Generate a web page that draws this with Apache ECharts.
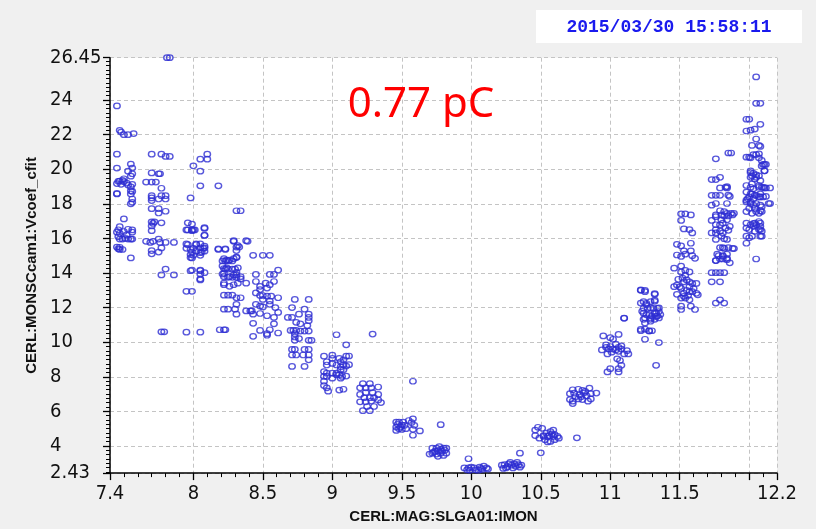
<!DOCTYPE html>
<html>
<head>
<meta charset="utf-8">
<script src="https://cdn.jsdelivr.net/npm/echarts@6/dist/echarts.min.js"></script>
<style>
  html, body { margin: 0; padding: 0; background: #f0f0f0; }
  #chart { width: 816px; height: 529px; }
</style>
</head>
<body>
<div id="chart"></div>
<script>
// Measured [current (A), Vcoef_cfit] pairs, grouped by magnet set point.
const i7_5 = [[7.45,23.66],[7.47,22.25],[7.48,22.15],[7.5,22.0],[7.53,22.0],[7.57,22.06],
  [7.45,20.87],[7.45,20.07],[7.53,19.89],[7.55,20.3],[7.56,20.07],[7.56,19.74],[7.55,19.6],
  [7.47,19.32],[7.49,19.36],[7.48,19.13],[7.5,19.28],[7.45,19.17],[7.53,19.09],[7.55,18.98],[7.56,19.13],[7.55,18.75],[7.56,18.72],
  [7.45,18.57],[7.55,18.57],[7.56,18.28],[7.55,18.0],[7.56,18.09],
  [7.5,17.13],[7.47,16.68],[7.45,16.36],[7.47,16.3],[7.5,16.4],[7.53,16.53],[7.56,16.49],[7.56,16.36],
  [7.47,15.96],[7.49,15.96],[7.53,15.96],[7.55,15.96],[7.56,15.96],
  [7.47,15.49],[7.49,15.36],[7.47,15.36],[7.55,14.87],
  [7.46,19.3],[7.45,18.6],[7.46,16.5],[7.46,16.1],[7.45,15.5],[7.46,15.4],[7.5,19.45],[7.52,19.2],[7.51,16.0],[7.52,16.2]];

const i7_75 = [[7.7,20.87],[7.77,20.87],[7.8,20.74],[7.83,20.74],
  [7.7,19.79],[7.75,19.74],[7.76,19.74],
  [7.66,19.26],[7.7,19.26],[7.73,19.26],[7.77,18.9],
  [7.7,18.47],[7.7,18.34],[7.7,18.19],[7.77,18.47],[7.8,18.47],[7.8,18.28],[7.75,18.28],
  [7.7,17.72],[7.75,17.72],[7.75,17.47],[7.8,17.57],
  [7.7,16.96],[7.71,16.87],[7.72,16.96],[7.77,16.9],[7.7,16.72],[7.7,16.45],
  [7.66,15.83],[7.69,15.77],[7.71,15.83],[7.75,15.96],[7.76,15.77],[7.8,15.77],[7.86,15.77],
  [7.7,15.3],[7.7,15.11],[7.75,15.21],[7.77,15.45],
  [7.8,14.23],[7.77,13.89],[7.86,13.89],
  [7.81,26.45],[7.83,26.45],[7.77,10.6],[7.79,10.6]];

const i8_0 = [[8.0,20.2],[8.05,20.58],[8.1,20.87],[8.1,20.58],[8.05,19.89],[8.05,19.04],[8.18,19.04],[7.98,18.34],
  [7.96,16.9],[7.99,16.83],[7.96,16.49],[7.99,16.45],[8.01,16.49],[8.08,16.58],[8.08,16.17],
  [7.96,15.64],[8.02,15.64],[8.05,15.45],[8.08,15.45],[7.98,15.36],[8.02,15.26],[8.08,15.26],[7.98,15.07],[7.98,14.89],[8.05,15.17],
  [7.98,14.13],[8.05,14.13],[8.05,13.94],[8.05,13.66],
  [7.95,16.49],[7.99,16.49],[8.0,16.49],[8.08,16.62],[8.08,16.19],
  [7.95,15.68],[7.95,15.43],[8.0,15.43],[8.02,15.68],[8.05,15.68],[8.07,15.43],[8.08,15.55],[7.99,15.21],[8.0,15.02],[8.05,15.02],[7.99,14.87],[8.06,15.21],
  [7.99,14.17],[8.05,14.17],[8.08,14.02],[8.05,13.6],
  [7.95,12.94],[7.99,12.94],[7.95,10.58],[8.05,10.58]];

const i8_25 = [[8.18,15.4],[8.23,15.4],[8.29,15.87],[8.32,15.58],[8.38,15.87],
  [8.22,14.83],[8.24,14.74],[8.26,14.74],[8.29,14.83],[8.31,14.92],
  [8.22,14.26],[8.24,14.3],[8.22,13.98],[8.22,13.79],[8.26,13.79],[8.29,13.89],[8.31,13.89],[8.34,13.79],[8.32,14.3],
  [8.22,13.41],[8.22,13.32],[8.26,13.23],[8.29,13.32],[8.32,13.41],[8.38,13.41],
  [8.22,12.72],[8.25,12.72],[8.28,12.72],[8.31,12.57],[8.34,12.57],
  [8.22,11.91],[8.25,11.91],[8.3,11.91],[8.31,12.19],[8.31,11.62],
  [8.19,10.72],[8.22,10.72],[8.23,10.72],
  [8.29,15.83],[8.39,15.83],[8.31,15.5],[8.33,15.5],[8.31,15.3],[8.18,15.36],[8.23,15.36],[8.31,17.6],[8.34,17.6],
  [8.21,14.7],[8.23,14.7],[8.25,14.7],[8.28,14.7],[8.31,14.89],[8.21,14.41],[8.23,14.23],[8.25,14.23],[8.28,14.23],[8.3,14.23],
  [8.31,14.04],[8.21,13.94],[8.25,13.75],[8.28,13.75],[8.31,13.75],[8.34,13.66]];

const i8_5 = [[8.43,15.02],[8.5,15.02],[8.55,15.02],
  [8.45,13.92],[8.55,13.92],[8.58,13.92],[8.61,14.17],
  [8.45,13.51],[8.48,13.23],[8.52,13.41],[8.55,13.32],[8.58,13.51],[8.48,13.04],[8.53,13.13],
  [8.45,12.85],[8.48,12.7],[8.5,12.7],[8.53,12.66],[8.56,12.66],[8.61,12.57],[8.5,12.47],[8.55,12.38],
  [8.45,12.19],[8.48,12.09],[8.5,12.04],[8.55,12.19],[8.59,12.0],[8.61,11.72],[8.42,11.81],[8.43,11.62],[8.48,11.66],[8.53,11.53],[8.58,11.43],
  [8.38,11.81],[8.41,11.81],
  [8.43,11.09],[8.43,10.34],[8.48,10.68],[8.53,10.49],[8.55,10.72],[8.53,10.4],[8.61,10.53],[8.58,11.06]];

const i8_75 = [[8.73,12.47],[8.83,12.47],
  [8.71,12.0],[8.76,11.62],[8.8,11.91],[8.83,11.62],[8.83,11.43],[8.83,11.24],[8.71,11.43],[8.74,11.15],[8.77,11.06],[8.82,10.96],[8.68,11.43],
  [8.7,10.68],[8.72,10.68],[8.74,10.68],[8.77,10.64],[8.8,10.64],[8.83,10.64],[8.73,10.49],[8.73,10.3],[8.73,10.11],[8.83,10.11],[8.85,10.11],[8.76,10.21],
  [8.71,9.58],[8.73,9.58],[8.71,9.26],[8.74,9.26],[8.71,8.6],[8.8,9.58],[8.83,9.58],[8.79,9.26],[8.83,9.26],[8.83,8.98],[8.8,8.6]];

const i9_0 = [[8.94,9.19],[9.0,9.25],[9.0,9.06],[9.05,9.06],[9.1,9.19],[9.1,8.62],[8.96,8.68],[8.96,8.87],[9.0,8.77],[9.03,8.68],[9.06,8.87],[9.06,8.58],
  [8.94,8.3],[8.96,8.21],[9.0,8.21],[9.03,8.21],[9.05,8.11],[8.94,8.02],[8.96,8.02],[9.0,7.92],[9.03,8.11],[9.06,7.92],[9.07,8.02],
  [8.94,7.74],[8.94,7.49],[8.96,7.36],[8.97,7.17],[9.05,7.23],
  [9.03,10.43],[9.29,10.47],[9.1,9.85],
  [9.08,8.98],[9.12,9.2],[9.08,8.7],[9.12,8.7],[9.06,8.41],[9.08,8.41],[9.1,8.04],[9.08,7.28]];

const i9_25 = [[9.22,7.6],[9.27,7.6],[9.2,7.36],[9.24,7.36],[9.28,7.36],[9.33,7.41],
  [9.2,6.98],[9.24,7.08],[9.29,7.08],[9.33,6.98],
  [9.23,6.79],[9.27,6.79],[9.3,6.79],
  [9.2,6.55],[9.24,6.55],[9.28,6.6],[9.33,6.66],[9.35,6.51],
  [9.25,6.28],[9.3,6.28],[9.22,6.04],[9.27,6.04]];

const i9_5 = [[9.46,5.38],[9.48,5.38],[9.51,5.38],[9.46,5.09],[9.49,5.09],[9.52,5.19],[9.46,4.9],[9.48,5.0],[9.53,5.0],[9.55,5.47],[9.58,5.57],[9.59,5.19],[9.58,4.96],[9.63,4.87],[9.58,4.62],
  [9.58,7.74],[9.78,5.23],[9.47,5.25],[9.5,5.2],[9.5,4.95],[9.57,5.35]];

const i9_75 = [[9.7,3.53],[9.72,3.87],[9.75,3.87],[9.77,3.96],[9.8,3.87],[9.82,3.87],[9.72,3.58],[9.75,3.53],[9.78,3.58],[9.82,3.58],[9.76,3.4],[9.8,3.45],
  [9.74,3.7],[9.76,3.72],[9.79,3.7],[9.81,3.75],[9.73,3.65],[9.78,3.8]];

const i10_0 = [[9.98,3.26],[9.95,2.73],[9.98,2.73],[10.0,2.77],[10.02,2.73],[10.06,2.77],[10.07,2.7],[10.09,2.83],[10.11,2.73],
  [9.97,2.62],[10.03,2.62],[10.08,2.64],[10.12,2.66],[9.99,2.6],[10.05,2.6]];

const i10_3 = [[10.22,2.89],[10.24,2.92],[10.27,2.96],[10.29,2.89],[10.31,2.96],[10.34,2.92],[10.36,2.89],[10.25,2.73],[10.3,2.73],[10.35,2.77],[10.35,3.58],
  [10.26,2.8],[10.32,2.82],[10.28,3.05],[10.33,3.05],[10.23,2.7]];

const i10_55 = [[10.46,4.92],[10.48,5.08],[10.51,5.02],[10.46,4.6],[10.49,4.45],[10.52,4.55],[10.54,4.74],[10.57,4.83],[10.59,4.92],[10.53,4.36],[10.57,4.26],[10.59,4.55],[10.6,4.36],[10.63,4.45],[10.55,4.55],
  [10.5,3.6],[10.76,4.47],[10.52,4.6],[10.56,4.6],[10.6,4.65],[10.62,4.55],[10.58,4.7],[10.55,4.23]];

const i10_8 = [[10.73,7.25],[10.77,7.28],[10.8,7.21],[10.85,7.34],[10.71,7.02],[10.74,7.06],[10.78,6.96],[10.81,7.06],[10.86,7.02],[10.71,6.68],[10.73,6.59],[10.77,6.72],[10.8,6.68],[10.84,6.59],[10.86,6.72],[10.73,6.45],[10.9,7.06],
  [10.75,6.85],[10.79,6.85],[10.83,6.9],[10.82,7.15]];

const i11_05 = [[10.95,10.36],[11.0,10.26],[11.06,10.45],[11.02,10.17],
  [10.97,9.85],[10.99,9.6],[11.04,9.89],[11.06,9.7],[11.08,9.79],[10.94,9.55],[10.98,9.32],[11.01,9.42],[11.06,9.47],[11.1,9.32],[11.12,9.51],[11.13,9.32],[10.97,9.7],
  [11.05,9.04],[11.07,8.94],[11.08,8.66],[11.0,8.47],[10.98,8.28],[11.06,8.28],[11.06,8.47],
  [11.33,8.66],[11.1,11.4],[11.02,9.6],[11.04,9.55],[11.0,9.75],[11.08,9.6]];

const i11_3 = [[11.22,13.0],[11.25,13.0],[11.32,12.81],[11.24,12.34],[11.26,12.25],[11.29,12.34],[11.32,12.43],
  [11.24,11.96],[11.27,11.96],[11.31,11.96],[11.34,11.96],[11.24,11.68],[11.28,11.59],[11.32,11.68],[11.35,11.77],[11.33,11.68],
  [11.25,11.4],[11.29,11.4],[11.33,11.49],[11.35,11.4],[11.25,11.11],[11.29,11.21],
  [11.28,10.64],[11.22,10.74],[11.25,10.17],[11.35,9.98],
  [11.22,13.02],[11.25,12.92],[11.32,12.77],[11.22,12.26],[11.26,12.17],[11.29,11.98],[11.32,12.36],[11.35,11.98],[11.23,11.79],[11.26,11.6],[11.3,11.51],[11.34,11.51],[11.36,11.6],
  [11.24,11.32],[11.29,11.32],[11.32,11.32],[11.25,10.75],[11.28,10.66],[11.3,10.66],[11.22,10.66],[11.1,11.38]];

const i11_55 = [[11.51,17.42],[11.54,17.42],[11.58,17.36],[11.51,17.04],[11.53,16.55],[11.57,16.51],[11.59,16.32],
  [11.58,15.72],[11.48,15.66],[11.51,15.57],[11.53,15.28],[11.54,15.09],[11.58,15.28],[11.48,15.04],[11.51,14.96],[11.59,15.0],[11.61,14.85],
  [11.46,14.28],[11.51,14.4],[11.51,14.06],[11.54,14.15],[11.57,14.06],[11.54,13.87],[11.49,13.64],[11.53,13.49],[11.57,13.49],[11.59,13.4],[11.62,13.4],
  [11.46,13.21],[11.48,13.3],[11.51,13.11],[11.53,12.83],[11.57,12.92],[11.59,12.92],[11.62,12.83],[11.63,12.74],[11.48,12.77],[11.51,12.55],[11.54,12.55],[11.57,12.45],
  [11.51,12.08],[11.51,11.89],[11.58,12.08],[11.61,11.89],[11.57,13.21],
  [11.52,13.7],[11.55,13.6],[11.5,13.2],[11.55,13.0],[11.6,13.1],[11.53,12.65],[11.56,12.7]];

const i11_8 = [[11.85,20.94],[11.87,20.94],[11.76,20.6],
  [11.73,19.4],[11.76,19.4],[11.79,19.53],[11.79,18.92],[11.84,18.92],
  [11.73,18.49],[11.76,18.49],[11.79,18.49],[11.86,18.43],[11.73,17.92],[11.76,18.02],[11.84,18.02],
  [11.79,17.6],[11.76,17.36],[11.8,17.36],[11.82,17.3],[11.85,17.3],[11.88,17.36],
  [11.73,17.04],[11.76,16.79],[11.79,16.79],[11.81,16.89],[11.84,17.08],[11.86,16.7],
  [11.73,16.32],[11.76,16.32],[11.79,16.42],[11.81,16.32],[11.85,16.47],[11.76,15.94],[11.8,16.13],[11.84,15.94],
  [11.79,15.47],[11.82,15.42],[11.85,15.47],[11.88,15.42],[11.77,15.09],[11.81,15.0],[11.84,15.09],
  [11.76,14.72],[11.79,14.81],[11.81,14.81],[11.84,14.85],[11.86,14.59],
  [11.73,14.02],[11.76,14.02],[11.79,14.02],[11.82,14.02],[11.73,13.49],[11.79,13.49],
  [11.76,12.26],[11.79,12.45],[11.82,12.26],
  [11.83,18.96],[11.84,19.0],[11.85,18.5],[11.82,17.55],[11.84,17.45],[11.87,17.45],[11.89,17.45],[11.76,17.26],[11.8,17.07],[11.83,16.6],[11.76,16.51],
  [11.82,15.98],[11.81,15.47],[11.89,15.41],[11.78,15.0],[11.81,14.96],[11.84,14.77],[11.76,14.72]];

const i12_05 = [[11.98,20.7],[12.01,20.66],[12.03,20.85],[12.07,20.89],[12.09,20.51],[12.11,20.28],[12.09,20.19],[12.11,19.91],
  [12.01,19.91],[12.03,19.76],[12.05,19.68],[12.01,19.53],[12.04,19.43],[12.08,19.34],
  [11.98,19.06],[12.01,18.96],[12.03,18.87],[12.07,18.96],[12.09,18.96],[12.11,18.92],[12.15,18.92],
  [11.98,18.68],[12.01,18.58],[12.04,18.49],[12.08,18.58],[11.99,18.3],[12.03,18.3],[12.07,18.4],[12.1,18.4],
  [11.98,18.11],[12.01,18.02],[12.03,17.92],[12.05,18.02],[12.09,17.83],[12.15,18.02],
  [11.98,17.55],[12.02,17.45],[12.05,17.55],[12.09,17.55],
  [11.98,16.89],[12.01,16.79],[12.03,16.85],[12.05,16.79],[12.08,16.89],[11.98,16.6],[12.03,16.7],[12.07,16.51],[12.09,16.42],
  [11.98,16.13],[12.02,16.13],[12.09,16.13],[11.98,15.72],[12.05,14.81],
  [12.05,25.34],[12.05,23.81],[12.08,23.81],[11.98,22.89],[12.0,22.89],[11.98,22.21],[12.01,22.26],[12.04,22.32],[12.08,22.6],
  [12.05,21.75],[12.07,21.38],[12.08,21.32],[12.02,21.38],
  [12.05,20.85],[12.07,20.66],[12.1,20.28],[12.12,20.28],[12.11,19.91],[12.0,20.7],
  [12.01,19.81],[12.02,19.62],[12.05,19.53],[12.07,19.62],
  [12.02,19.15],[12.07,19.06],[12.1,18.96],[12.12,18.92],
  [12.0,18.4],[12.02,18.58],[12.05,18.49],[12.08,18.4],[12.12,18.43],
  [11.98,18.21],[12.01,18.11],[12.08,17.92],[12.14,18.02],
  [12.0,17.74],[12.04,17.74],[12.08,17.6],[12.07,17.45],
  [12.04,16.89],[12.07,16.98],[12.08,16.7],[12.0,16.51],[12.04,16.41],[12.08,16.51],
  [12.0,16.04],[12.08,16.13]];

// Axis extents, labelled values and major tick positions
const xRange = [7.4, 12.2];
const yRange = [2.43, 26.45];
const xLabels = [7.4, 8, 8.5, 9, 9.5, 10, 10.5, 11, 11.5, 12.2];
const yLabels = [2.43, 4, 6, 8, 10, 12, 14, 16, 18, 20, 22, 24, 26.45];
const xMajorTicks = [7.4, 8, 8.5, 9, 9.5, 10, 10.5, 11, 11.5, 12, 12.2];
const yMajorTicks = [2.43, 4, 6, 8, 10, 12, 14, 16, 18, 20, 22, 24, 26.45];

// Minor ticks: every 0.1 A along x, every 0.25 along y
const xMinorTicks = [];
for (let k = 75; k < 122; k++) xMinorTicks.push(k / 10);
const yMinorTicks = [];
for (let k = 10; k <= 105; k++) yMinorTicks.push(k / 4);

const points = [].concat(i7_5, i7_75, i8_0, i8_25, i8_5, i8_75, i9_0, i9_25, i9_5, i9_75,
  i10_0, i10_3, i10_55, i10_8, i11_05, i11_3, i11_55, i11_8, i12_05);

const labelFont = "'Liberation Sans Narrow', 'DejaVu Sans Condensed', 'Liberation Sans', sans-serif";
const nameFont = "'Liberation Sans Narrow', 'Liberation Sans', Arial, sans-serif";
const gridLine = { show: true, lineStyle: { color: '#c4c4c4', width: 1, type: [4, 3] } };

const chart = echarts.init(document.getElementById('chart'), null, { renderer: 'canvas' });
chart.setOption({
  backgroundColor: '#f0f0f0',
  animation: false,
  grid: { left: 110, right: 39, top: 57.7, bottom: 47.3, show: true, backgroundColor: '#ffffff', borderWidth: 0 },
  xAxis: [{
    type: 'value', min: xRange[0], max: xRange[1], splitNumber: 10,
    name: 'CERL:MAG:SLGA01:IMON', nameLocation: 'middle', nameGap: 32,
    nameTextStyle: { fontFamily: nameFont, fontWeight: 'bold', fontSize: 15, color: '#111' },
    axisLine: { show: true, onZero: false, lineStyle: { color: '#000', width: 1.5 } },
    axisTick: { show: true, length: 7, inside: false, customValues: xMajorTicks, lineStyle: { color: '#000', width: 1.3 } },
    axisLabel: { customValues: xLabels, margin: 11, fontFamily: labelFont, fontSize: 20, color: '#111' },
    splitLine: gridLine
  }, {
    type: 'value', min: xRange[0], max: xRange[1], position: 'bottom',
    axisLine: { show: false },
    axisTick: { show: true, length: 4, customValues: xMinorTicks, lineStyle: { color: '#000', width: 1 } },
    axisLabel: { show: false },
    splitLine: { show: false }
  }],
  yAxis: [{
    type: 'value', min: yRange[0], max: yRange[1], splitNumber: 12,
    name: 'CERL:MONSCcam1:Vcoef_cfit', nameLocation: 'middle', nameGap: 59,
    nameTextStyle: { fontFamily: nameFont, fontWeight: 'bold', fontSize: 15, color: '#111' },
    axisLine: { show: true, onZero: false, lineStyle: { color: '#000', width: 1.5 } },
    axisTick: { show: true, length: 7, customValues: yMajorTicks, lineStyle: { color: '#000', width: 1.3 } },
    axisLabel: { customValues: yLabels, margin: 60, align: 'left', fontFamily: labelFont, fontSize: 20, color: '#111' },
    splitLine: gridLine
  }, {
    type: 'value', min: yRange[0], max: yRange[1], position: 'left',
    axisLine: { show: false },
    axisTick: { show: true, length: 4, customValues: yMinorTicks, lineStyle: { color: '#000', width: 1 } },
    axisLabel: { show: false },
    splitLine: { show: false }
  }],
  graphic: [
    { type: 'rect', shape: { x: 536, y: 10, width: 266, height: 33 }, style: { fill: '#ffffff' }, silent: true },
    { type: 'text', x: 669, y: 27, silent: true,
      style: { text: '2015/03/30 15:58:11', fill: '#1a1aee', font: "bold 18px 'Liberation Mono', 'DejaVu Sans Mono', monospace",
               align: 'center', verticalAlign: 'middle', textAlign: 'center', textVerticalAlign: 'middle' } },
    { type: 'text', x: 421, y: 105, silent: true, z: 100,
      style: { text: '0.77 pC', fill: '#ff0000', font: "42px 'Noto Sans', sans-serif",
               align: 'center', verticalAlign: 'middle', textAlign: 'center', textVerticalAlign: 'middle' } }
  ],
  series: [{
    type: 'scatter', xAxisIndex: 0, yAxisIndex: 0,
    data: points,
    symbol: 'circle', symbolSize: [6.5, 5.5],
    itemStyle: { color: 'rgba(0,0,0,0)', borderColor: '#2d2dd2', borderWidth: 1.3 },
    silent: true
  }]
});
</script>
</body>
</html>
